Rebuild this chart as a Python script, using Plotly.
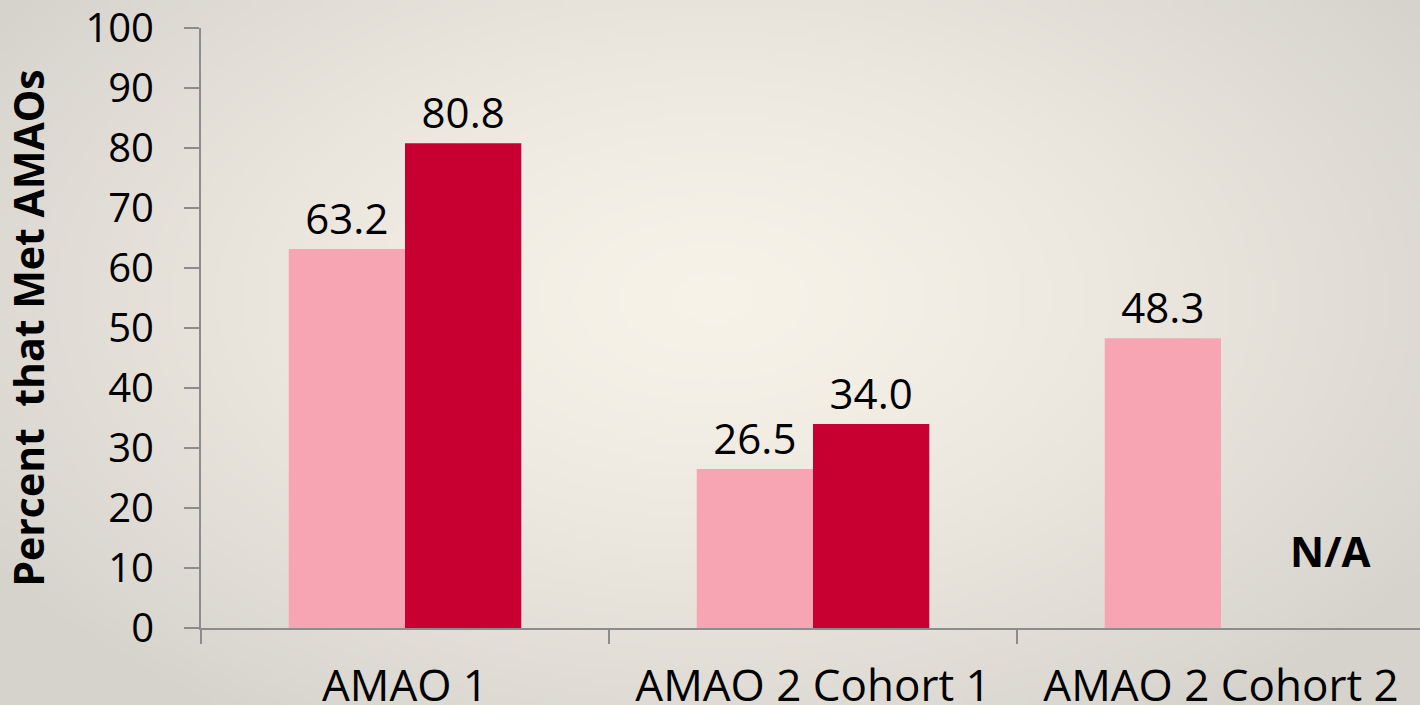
import plotly.graph_objects as go
import zlib, struct, base64, math

# ---- data ----
categories = ["AMAO 1", "AMAO 2 Cohort 1", "AMAO 2 Cohort 2"]
series_a = [63.2, 26.5, 48.3]
series_b = [80.8, 34.0, None]
na_label = "N/A"
y_title = "Percent  that Met AMAOs"
y_ticks = [0, 10, 20, 30, 40, 50, 60, 70, 80, 90, 100]

W, H = 1420, 705
ML, MR, MT, MB = 201, 0, 28, 77
PW, PH = W - ML - MR, H - MT - MB


# ---- background gradient image (decorative) ----
def make_png(w, h):
    cl = (247, 242, 232)
    ce = (214, 211, 205)
    raw = bytearray()
    cx, cy = w * 0.5, h * 0.42
    for j in range(h):
        raw.append(0)
        for i in range(w):
            dx = (i - cx) / (w * 0.5)
            dy = (j - cy) / (h * 0.6)
            d = min(1.0, math.sqrt(dx * dx + dy * dy) / 1.2)
            t = d ** 1.4
            raw.extend(int(round(cl[k] + (ce[k] - cl[k]) * t)) for k in range(3))

    def chunk(tag, data):
        c = struct.pack(">I", len(data)) + tag + data
        return c + struct.pack(">I", zlib.crc32(tag + data) & 0xFFFFFFFF)

    png = b"\x89PNG\r\n\x1a\n"
    png += chunk(b"IHDR", struct.pack(">IIBBBBB", w, h, 8, 2, 0, 0, 0))
    png += chunk(b"IDAT", zlib.compress(bytes(raw), 9))
    png += chunk(b"IEND", b"")
    return "data:image/png;base64," + base64.b64encode(png).decode()


bg = make_png(284, 141)

FONT = "Open Sans"

fig = go.Figure()
fig.add_trace(go.Bar(
    x=categories, y=series_a, marker=dict(color="#F7A5B3", line=dict(width=0)),
    text=[f"{v:.1f}" for v in series_a], textposition="outside",
    textfont=dict(family=FONT, size=42, color="#000000"), cliponaxis=False,
))
fig.add_trace(go.Bar(
    x=categories, y=series_b, marker=dict(color="#C80032", line=dict(width=0)),
    text=[("" if v is None else f"{v:.1f}") for v in series_b], textposition="outside",
    textfont=dict(family=FONT, size=42, color="#000000"), cliponaxis=False,
))

fig.add_annotation(
    x=2.267, y=13, xref="x", yref="y", text=f"<b>{na_label}</b>", showarrow=False,
    font=dict(family=FONT, size=42, color="#000000"),
)

fig.add_layout_image(
    source=bg, xref="paper", yref="paper",
    x=-ML / PW, y=1 + MT / PH, sizex=W / PW, sizey=H / PH,
    xanchor="left", yanchor="top", sizing="stretch", layer="below",
)

fig.update_layout(
    width=W, height=H,
    margin=dict(l=ML, r=MR, t=MT, b=MB, pad=0),
    paper_bgcolor="#EEEAE2", plot_bgcolor="rgba(0,0,0,0)",
    barmode="group", bargap=0.43, bargroupgap=0,
    showlegend=False,
    font=dict(family=FONT, color="#000000"),
)
fig.update_xaxes(
    range=[-0.5, -0.5 + PW / 408.0], showline=True, linecolor="#8C8C8C", linewidth=2,
    ticks="outside", tickson="boundaries", ticklen=14, tickwidth=2, tickcolor="#8C8C8C",
    tickfont=dict(family=FONT, size=44, color="#000000"), showgrid=False,
    ticklabelstandoff=18, automargin=False, ticklabeloverflow="allow",
)
fig.update_yaxes(
    range=[0, 100.02], tickvals=y_ticks, showline=True, linecolor="#8C8C8C", linewidth=2,
    ticks="outside", ticklen=15, tickwidth=2, tickcolor="#8C8C8C",
    tickfont=dict(family=FONT, size=40, color="#000000"), showgrid=False, zeroline=False,
    ticklabelstandoff=22, ticklabeloverflow="allow",
    title=dict(text=f"<b>{y_title}</b>", font=dict(family=FONT, size=41, color="#000000"), standoff=47),
    automargin=False,
)

fig.write_html(
    "out.html",
    config={"displayModeBar": False},
    post_script="document.body.style.margin='0px';",
)
